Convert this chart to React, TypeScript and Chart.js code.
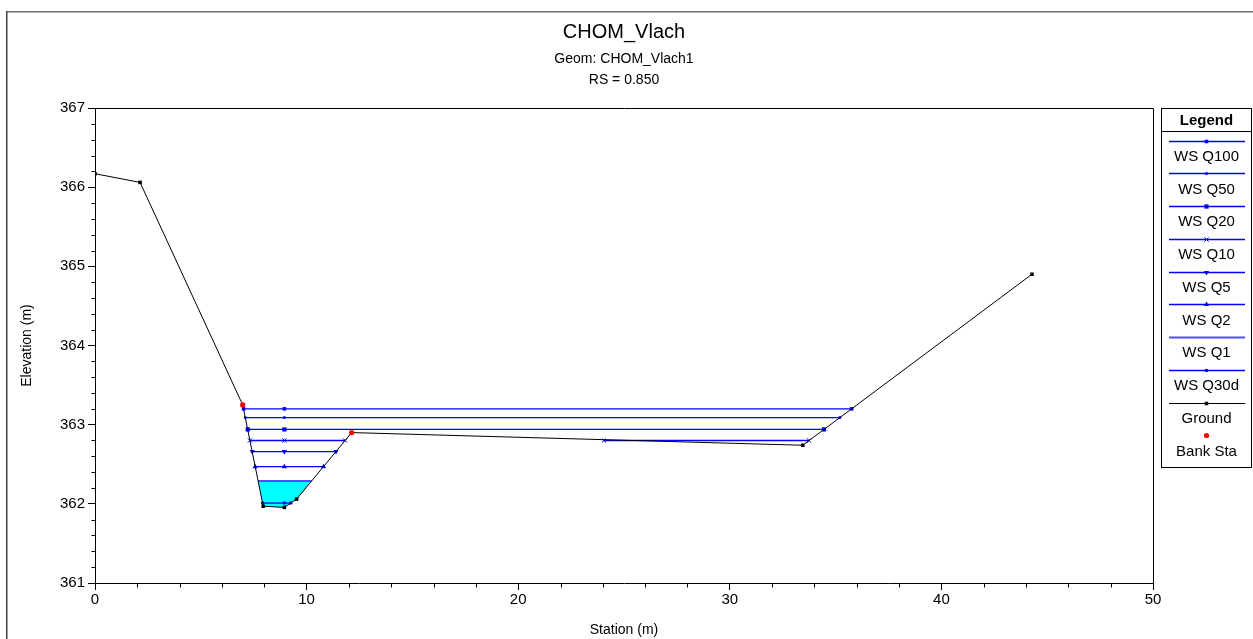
import React, { useEffect, useRef } from 'react';
import { Chart, registerables } from 'chart.js';

Chart.register(...registerables);

const FONT = "'Liberation Sans', Arial, Helvetica, sans-serif";

// ---- text ----
const titleText = 'CHOM_Vlach';
const subtitleLines = ['Geom: CHOM_Vlach1', 'RS = 0.850'];
const xAxisTitle = 'Station (m)';
const yAxisTitle = 'Elevation (m)';
const legendTitle = 'Legend';

// ---- axes ----
const xMin = 0;
const xMax = 50;
const xMajorStep = 10;
const xMinorStep = 2;
const yMin = 361;
const yMax = 367;
const yMajorStep = 1;
const yMinorStep = 0.2;

// ---- ground ----
const groundStation = [0, 2.13, 6.98, 7.95, 8.95, 9.53, 12.13, 33.45, 44.28];
const groundElevation = [366.17, 366.06, 363.25, 361.97, 361.955, 362.06, 362.9, 362.74, 364.9];

// ---- bank stations ----
const bankStation = [6.98, 12.13];
const bankElevation = [363.25, 362.9];

// ---- water surfaces ----
const profileNames = ['WS Q100', 'WS Q50', 'WS Q20', 'WS Q10', 'WS Q5', 'WS Q2', 'WS Q1', 'WS Q30d'];
const wsElevation = [363.2, 363.09, 362.94, 362.8, 362.66, 362.47, 362.29, 362.01];
const wsLeftStation = [7.02, 7.1, 7.22, 7.32, 7.43, 7.57, 7.71, 7.92];
const wsRightStation = [35.76, 35.2, 34.45, 11.82, 11.39, 10.8, 10.24, 9.25];
const wsMidStation = 8.95;
const q10OverbankStation = [24.05, 33.75];
const filledProfile = 6; // WS Q1 drawn with the water fill

// ---- styles ----
const BLUE = '#0000ff';
const wsMarkers: { style: string | false; radius: number; rotation: number }[] = [
  { style: 'rect', radius: 2.5, rotation: 0 },
  { style: 'circle', radius: 1.5, rotation: 0 },
  { style: 'rect', radius: 3, rotation: 0 },
  { style: 'crossRot', radius: 3, rotation: 0 },
  { style: 'triangle', radius: 3, rotation: 180 },
  { style: 'triangle', radius: 3, rotation: 0 },
  { style: false, radius: 0, rotation: 0 },
  { style: 'circle', radius: 1.8, rotation: 0 },
];

function wsLineColor(i: number) {
  return i === filledProfile ? 'rgb(80,80,255)' : BLUE;
}
function wsLineWidth(i: number) {
  return i === filledProfile ? 2 : 1.3;
}

function wsPoints(i: number) {
  const y = wsElevation[i];
  const pts: { x: number; y: number | null }[] = [
    { x: wsLeftStation[i], y },
    { x: wsMidStation, y },
    { x: wsRightStation[i], y },
  ];
  if (i === 3) {
    pts.push({ x: (wsRightStation[i] + q10OverbankStation[0]) / 2, y: null });
    pts.push({ x: q10OverbankStation[0], y });
    pts.push({ x: q10OverbankStation[1], y });
  }
  return pts;
}

function channelBottomPoints() {
  const l = wsLeftStation[filledProfile];
  const r = wsRightStation[filledProfile];
  const y = wsElevation[filledProfile];
  const pts = [{ x: l, y }];
  groundStation.forEach((s, k) => {
    if (s > l && s < r) pts.push({ x: s, y: groundElevation[k] });
  });
  pts.push({ x: r, y });
  return pts;
}

function drawMarker(
  ctx: CanvasRenderingContext2D,
  style: string | false,
  x: number,
  y: number,
  r: number,
  rot: number,
  color: string
) {
  if (!style) return;
  ctx.save();
  ctx.translate(x, y);
  ctx.rotate((rot * Math.PI) / 180);
  ctx.fillStyle = color;
  ctx.strokeStyle = color;
  ctx.lineWidth = 1;
  if (style === 'rect') {
    const s = r * Math.SQRT1_2;
    ctx.fillRect(-s, -s, 2 * s, 2 * s);
  } else if (style === 'circle') {
    ctx.beginPath();
    ctx.arc(0, 0, r, 0, Math.PI * 2);
    ctx.fill();
  } else if (style === 'triangle') {
    ctx.beginPath();
    ctx.moveTo(0, -r);
    ctx.lineTo(r * 0.866, r * 0.5);
    ctx.lineTo(-r * 0.866, r * 0.5);
    ctx.closePath();
    ctx.fill();
  } else if (style === 'crossRot') {
    const c = r * Math.SQRT1_2;
    ctx.beginPath();
    ctx.moveTo(-c, -c);
    ctx.lineTo(c, c);
    ctx.moveTo(-c, c);
    ctx.lineTo(c, -c);
    ctx.stroke();
  }
  ctx.restore();
}

const decorPlugin = {
  id: 'decor',
  afterDraw(chart: any) {
    const ctx: CanvasRenderingContext2D = chart.ctx;
    const a = chart.chartArea;
    const xs = chart.scales.x;
    const ys = chart.scales.y;
    const W = chart.width;
    const H = chart.height;
    ctx.save();

    // outer frame
    ctx.fillStyle = '#707070';
    ctx.fillRect(6, 11, W - 6, 1.5);
    ctx.fillStyle = '#404040';
    ctx.fillRect(6, 11, 1.5, H - 11);

    // plot box top & right
    ctx.strokeStyle = '#000';
    ctx.lineWidth = 1;
    const top = Math.round(a.top) + 0.5;
    const right = Math.round(a.right) + 0.5;
    const bottom = Math.round(a.bottom) + 0.5;
    const left = Math.round(a.left) + 0.5;
    ctx.beginPath();
    ctx.moveTo(left, top);
    ctx.lineTo(right, top);
    ctx.lineTo(right, bottom);
    ctx.stroke();

    // minor ticks
    ctx.beginPath();
    const nY = Math.round((yMax - yMin) / yMinorStep);
    for (let k = 0; k <= nY; k++) {
      const v = yMin + k * yMinorStep;
      if (Math.abs(v / yMajorStep - Math.round(v / yMajorStep)) < 1e-6) continue;
      const py = Math.round(ys.getPixelForValue(v)) + 0.5;
      ctx.moveTo(left - 4, py);
      ctx.lineTo(left, py);
    }
    const nX = Math.round((xMax - xMin) / xMinorStep);
    for (let k = 0; k <= nX; k++) {
      const v = xMin + k * xMinorStep;
      if (Math.abs(v / xMajorStep - Math.round(v / xMajorStep)) < 1e-6) continue;
      const px = Math.round(xs.getPixelForValue(v)) + 0.5;
      ctx.moveTo(px, bottom);
      ctx.lineTo(px, bottom + 4);
    }
    ctx.stroke();

    // titles
    const cx = (a.left + a.right) / 2;
    ctx.fillStyle = '#000';
    ctx.textAlign = 'center';
    ctx.textBaseline = 'middle';
    ctx.font = `20px ${FONT}`;
    ctx.fillText(titleText, cx, 32);
    ctx.font = `14px ${FONT}`;
    ctx.fillText(subtitleLines[0], cx, 59);
    ctx.fillText(subtitleLines[1], cx, 80);

    // legend box
    const lx0 = 1161.5;
    const lx1 = 1251.5;
    const ly0 = 108.5;
    const ly1 = 467.5;
    const lcx = (lx0 + lx1) / 2;
    ctx.strokeStyle = '#000';
    ctx.lineWidth = 1;
    ctx.strokeRect(lx0, ly0, lx1 - lx0, ly1 - ly0);
    ctx.beginPath();
    ctx.moveTo(lx0, 131.5);
    ctx.lineTo(lx1, 131.5);
    ctx.stroke();
    ctx.font = `bold 15px ${FONT}`;
    ctx.fillText(legendTitle, lcx, 120.5);

    const items: {
      name: string;
      line: boolean;
      color: string;
      width: number;
      marker: string | false;
      r: number;
      rot: number;
      mColor: string;
    }[] = [];
    profileNames.forEach((n, i) =>
      items.push({
        name: n,
        line: true,
        color: wsLineColor(i),
        width: wsLineWidth(i),
        marker: wsMarkers[i].style,
        r: wsMarkers[i].radius,
        rot: wsMarkers[i].rotation,
        mColor: BLUE,
      })
    );
    items.push({ name: 'Ground', line: true, color: '#000', width: 1, marker: 'rect', r: 2.5, rot: 0, mColor: '#000' });
    items.push({ name: 'Bank Sta', line: false, color: '#f00', width: 0, marker: 'circle', r: 2.6, rot: 0, mColor: '#ff0000' });

    ctx.font = `15px ${FONT}`;
    items.forEach((it, i) => {
      const sy = 140.7 + i * 32.75;
      if (it.line) {
        ctx.strokeStyle = it.color;
        ctx.lineWidth = it.width;
        ctx.beginPath();
        ctx.moveTo(1169, Math.round(sy) + 0.5);
        ctx.lineTo(1245, Math.round(sy) + 0.5);
        ctx.stroke();
      }
      drawMarker(ctx, it.marker, lcx, Math.round(sy) + 0.5, it.r, it.rot, it.mColor);
      ctx.fillStyle = '#000';
      ctx.fillText(it.name, lcx, sy + 16);
    });

    ctx.restore();
  },
};

export default function App() {
  const ref = useRef<HTMLCanvasElement>(null);

  useEffect(() => {
    document.body.style.margin = '0';
    Chart.defaults.font.family = FONT;
    Chart.defaults.color = '#000';

    const wsDatasets: any[] = profileNames.map((name, i) => ({
      label: name,
      data: wsPoints(i),
      showLine: true,
      borderColor: wsLineColor(i),
      borderWidth: wsLineWidth(i),
      pointStyle: wsMarkers[i].style,
      pointRadius: wsMarkers[i].radius,
      pointRotation: wsMarkers[i].rotation,
      pointBackgroundColor: BLUE,
      pointBorderColor: BLUE,
      pointBorderWidth: wsMarkers[i].style === 'crossRot' ? 1 : 0,
      backgroundColor: i === filledProfile ? '#00ffff' : 'transparent',
      fill: i === filledProfile ? '+1' : false,
      spanGaps: false,
    }));

    const channelDataset = {
      label: 'channel',
      data: channelBottomPoints(),
      showLine: true,
      borderColor: 'rgba(0,0,0,0)',
      borderWidth: 1,
      pointRadius: 0,
      fill: false,
    };

    const datasets: any[] = [
      {
        label: 'Bank Sta',
        data: bankStation.map((x, k) => ({ x, y: bankElevation[k] })),
        showLine: false,
        pointStyle: 'circle',
        pointRadius: 2.6,
        pointBackgroundColor: '#ff0000',
        pointBorderWidth: 0,
      },
      {
        label: 'Ground',
        data: groundStation.map((x, k) => ({ x, y: groundElevation[k] })),
        showLine: true,
        borderColor: '#000',
        borderWidth: 1,
        pointStyle: 'rect',
        pointRadius: 2.5,
        pointBackgroundColor: '#000',
        pointBorderWidth: 0,
        fill: false,
      },
      ...wsDatasets.slice(0, filledProfile + 1),
      channelDataset,
      ...wsDatasets.slice(filledProfile + 1),
    ];

    const chart = new Chart(ref.current as HTMLCanvasElement, {
      type: 'scatter',
      data: { datasets },
      options: {
        responsive: false,
        animation: false,
        events: [],
        layout: { padding: { top: 108, right: 100, left: 0, bottom: 0 } },
        plugins: {
          legend: { display: false },
          tooltip: { enabled: false },
          title: { display: false },
          filler: { drawTime: 'beforeDatasetsDraw' },
        } as any,
        scales: {
          x: {
            type: 'linear',
            min: xMin,
            max: xMax,
            ticks: { stepSize: xMajorStep, font: { size: 15 }, color: '#000', padding: 1, maxRotation: 0 },
            grid: { drawOnChartArea: false, drawTicks: true, tickLength: 7, color: '#000' },
            border: { display: true, color: '#000', width: 1 },
            title: { display: true, text: xAxisTitle, font: { size: 14 }, color: '#000', padding: { top: 1, bottom: 0 } },
            afterFit: (s: any) => {
              s.height = 56;
            },
          },
          y: {
            type: 'linear',
            min: yMin,
            max: yMax,
            ticks: { stepSize: yMajorStep, font: { size: 15 }, color: '#000', padding: 3 },
            grid: { drawOnChartArea: false, drawTicks: true, tickLength: 7, color: '#000' },
            border: { display: true, color: '#000', width: 1 },
            title: { display: true, text: yAxisTitle, font: { size: 14 }, color: '#000', padding: { top: 19, bottom: 0 } },
            afterFit: (s: any) => {
              s.width = 95;
            },
          },
        },
      } as any,
      plugins: [decorPlugin],
    });
    return () => chart.destroy();
  }, []);

  return (
    <div style={{ width: 1253, height: 639, background: '#fff' }}>
      <canvas ref={ref} width={1253} height={639} style={{ display: 'block' }} />
    </div>
  );
}
